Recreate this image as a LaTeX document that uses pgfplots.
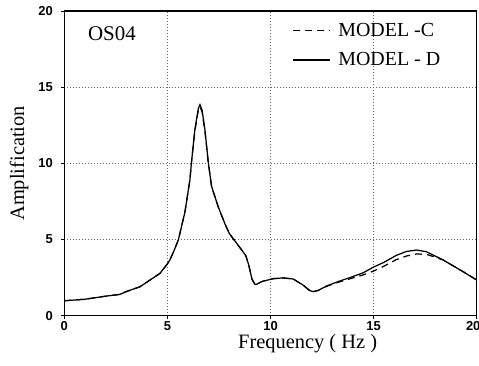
\documentclass[border=0pt]{standalone}
\usepackage{fontspec}
\setmainfont{Liberation Serif}
\newfontfamily\tickfont{Liberation Sans}
\usepackage{pgfplots}
\pgfplotsset{compat=1.18}
\begin{document}
\begin{tikzpicture}
\begin{axis}[
  scale only axis,
  width=412.4bp, height=304.7bp,
  xmin=0, xmax=20, ymin=0, ymax=20,
  xtick={0,5,10,15,20}, ytick={0,5,10,15,20},
  xticklabels={0,5,10,15,\hspace*{-7bp}20},
  tick align=outside, major tick length=3bp,
  tick style={black, line width=0.8pt},
  xtick pos=bottom, ytick pos=left,
  axis line style={line width=1.1pt},
  grid=major,
  major grid style={black!60, line width=0.6pt, dash pattern=on 1bp off 2bp},
  /pgf/number format/assume math mode=true,
  ticklabel style={font=\tickfont\bfseries\fontsize{13}{14}\selectfont},
  xticklabel style={yshift=1bp},
  yticklabel style={xshift=-5bp},
  xlabel={Frequency ( Hz )},
  ylabel={Amplification},
  label style={font=\fontsize{20.5}{23}\selectfont},
  xlabel style={at={(rel axis cs:0.59,0)}, anchor=north, yshift=-15bp},
  ylabel style={yshift=3bp},
  legend style={draw=none, fill=none, at={(rel axis cs:0.552,0.965)}, anchor=north west,
    font=\fontsize{20}{22}\selectfont, inner sep=0pt, row sep=13bp,
    nodes={inner sep=1pt}},
  legend cell align=left,
  legend image code/.code={\draw[#1] (0bp,0bp) -- (37bp,0bp); \path (44bp,0bp);},
]
\addplot[black, line width=1.25pt, dash pattern=on 7bp off 5bp] coordinates {
(0,0.98) (1,1.08) (2,1.28) (2.7,1.40) (3,1.58) (3.67,1.90) (4,2.2) (4.64,2.78)
(5,3.4) (5.12,3.66) (5.3,4.2) (5.53,4.97) (5.85,6.8) (6.09,8.9) (6.17,10.1)
(6.33,12.1) (6.5,13.5) (6.58,13.7) (6.68,13.4) (6.82,12.1) (6.98,10.1) (7.14,8.5)
(7.46,7.16) (7.8,6.0) (8.0,5.4) (8.5,4.5) (8.8,3.95) (8.95,3.3) (9.1,2.4) (9.25,2.05)
(9.32,2.06) (9.6,2.25) (10.13,2.43) (10.6,2.48) (11.1,2.41) (11.58,2.01) (11.9,1.65)
(12.07,1.58) (12.3,1.65) (12.72,1.93) (13.3,2.2) (13.85,2.42) (14.5,2.68) (14.98,2.92)
(15.5,3.25) (16.1,3.68) (16.6,3.92) (17.08,4.05) (17.56,4.03) (17.9,3.88) (18.37,3.66)
(19.34,2.89) (20,2.34)
};
\addlegendentry{MODEL -C}
\addplot[black, line width=1.25pt] coordinates {
(0,0.98) (1,1.08) (2,1.28) (2.7,1.40) (3,1.58) (3.67,1.90) (4,2.2) (4.64,2.78)
(5,3.4) (5.12,3.66) (5.3,4.2) (5.53,4.97) (5.85,6.8) (6.09,8.9) (6.17,10.1)
(6.33,12.2) (6.5,13.6) (6.58,13.85) (6.68,13.5) (6.82,12.2) (6.98,10.1) (7.14,8.5)
(7.46,7.16) (7.8,6.0) (8.0,5.4) (8.5,4.5) (8.8,3.95) (8.95,3.3) (9.1,2.4) (9.25,2.05)
(9.32,2.06) (9.6,2.25) (10.13,2.43) (10.6,2.48) (11.1,2.41) (11.58,2.01) (11.9,1.65)
(12.07,1.58) (12.3,1.65) (12.72,1.95) (13.3,2.25) (13.85,2.5) (14.5,2.82) (14.98,3.18)
(15.5,3.5) (16.1,3.96) (16.6,4.22) (17.08,4.31) (17.56,4.2) (18.37,3.66)
(19.34,2.89) (20,2.34)
};
\addlegendentry{MODEL - D}
\node[font=\fontsize{21}{23}\selectfont] at (axis cs:2.31,18.5) {OS04};
\end{axis}
\pgfresetboundingbox
\path ([shift={(-64.3bp,-50.3bp)}]current axis.south west) rectangle ++(479bp,366bp);
\end{tikzpicture}
\end{document}
